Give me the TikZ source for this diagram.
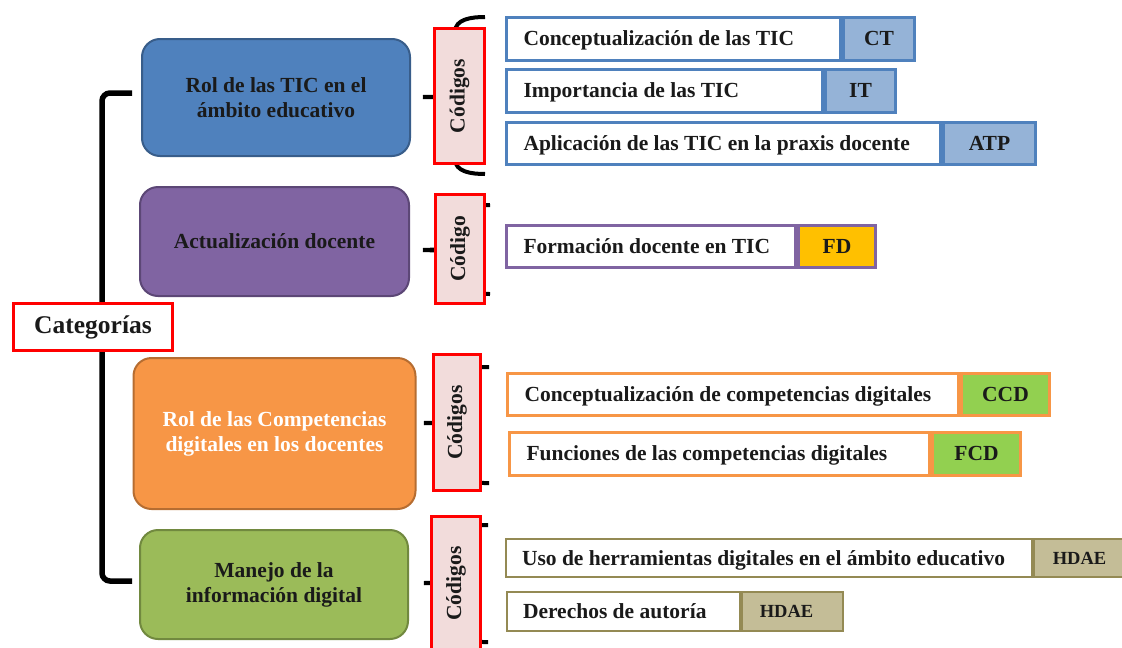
\documentclass[tikz,border=0pt]{standalone}
\usepackage{fontspec}
\setmainfont{Liberation Serif}
\definecolor{txt}{HTML}{1A1A1A}
\definecolor{blueA}{HTML}{4F81BD}
\definecolor{blueB}{HTML}{95B3D7}
\definecolor{blueD}{HTML}{385D8A}
\definecolor{purA}{HTML}{8064A2}
\definecolor{purD}{HTML}{5C4776}
\definecolor{gold}{HTML}{FFC000}
\definecolor{oraA}{HTML}{F79646}
\definecolor{oraD}{HTML}{B66D31}
\definecolor{lgreen}{HTML}{92D050}
\definecolor{grnA}{HTML}{9BBB59}
\definecolor{grnD}{HTML}{71893F}
\definecolor{oliveA}{HTML}{948A54}
\definecolor{oliveB}{HTML}{C4BD97}
\definecolor{pinkfill}{HTML}{F2DCDB}
\begin{document}
\begin{tikzpicture}[x=1pt,y=-1pt,
  base/.style={font=\bfseries\fontsize{21.5}{25}\selectfont, text=txt, inner sep=0pt},
  catbox/.style={base, draw, line width=2pt, rounded corners=18pt, align=center},
  codigo/.style={base, draw=red, fill=pinkfill, line width=3pt},
  itembox/.style={base, draw, line width=3pt, fill=white, anchor=west, inner xsep=17pt, text depth=0pt},
  codebox/.style={base, draw, line width=3pt, anchor=west},
  bracebar/.style={line width=4pt, black},
  mainbar/.style={line width=5.5pt, black, rounded corners=8pt},
  ]
\useasboundingbox (0,0) rectangle (1122,648);

% main bracket
\coordinate (mt) at (132,93);
\coordinate (mb) at (132,581);
\draw[mainbar] (mt) -- (102,93) -- (102,581) -- (mb);

% braces behind Codigos boxes
\coordinate (a1) at (485,17); \coordinate (m1) at (423,97); \coordinate (z1) at (485,174);
\draw[bracebar] (a1) to[out=180,in=90] (455,32) -- (455,86) to[out=-90,in=0] (m1);
\draw[bracebar] (m1) to[out=0,in=90] (455,108) -- (455,159) to[out=-90,in=180] (z1);

\coordinate (a2) at (490,205); \coordinate (m2) at (423,250); \coordinate (z2) at (490,294);
\draw[bracebar] (a2) to[out=180,in=90] (460,218) -- (460,240) to[out=-90,in=0] (m2);
\draw[bracebar] (m2) to[out=0,in=90] (460,260) -- (460,281) to[out=-90,in=180] (z2);

\coordinate (a3) at (489,367); \coordinate (m3) at (424,423); \coordinate (z3) at (489,483);
\draw[bracebar] (a3) to[out=180,in=90] (457,380) -- (457,413) to[out=-90,in=0] (m3);
\draw[bracebar] (m3) to[out=0,in=90] (457,433) -- (457,470) to[out=-90,in=180] (z3);

\coordinate (a4) at (488,525); \coordinate (m4) at (424,583); \coordinate (z4) at (488,642);
\draw[bracebar] (a4) to[out=180,in=90] (456,538) -- (456,573) to[out=-90,in=0] (m4);
\draw[bracebar] (m4) to[out=0,in=90] (456,593) -- (456,629) to[out=-90,in=180] (z4);

% Categorias
\node[base, draw=red, fill=white, line width=3pt, minimum width=159pt, minimum height=47pt,
      font=\bfseries\fontsize{25.5}{28}\selectfont] (cats) at (93,327) {Categorías};

% category boxes
\node[catbox, draw=blueD, fill=blueA, minimum width=268pt, minimum height=117pt] (b1) at (276,97.5)
  {Rol de las TIC en el\\ámbito educativo};
\node[catbox, draw=purD, fill=purA, minimum width=269pt, minimum height=109pt] (b2) at (274.5,241.5)
  {Actualización docente};
\node[catbox, draw=oraD, fill=oraA, text=white, minimum width=282pt, minimum height=151pt] (b3) at (274.5,433.5)
  {Rol de las Competencias\\digitales en los docentes};
\node[catbox, draw=grnD, fill=grnA, minimum width=268pt, minimum height=109pt] (b4) at (274,584.5)
  {Manejo de la\\información digital};

% Codigos boxes
\node[codigo, minimum width=50pt, minimum height=135pt] (c1) at (459.5,96) {\rotatebox{90}{Códigos}};
\node[codigo, minimum width=49pt, minimum height=109pt] (c2) at (460,249) {\rotatebox{90}{Código}};
\node[codigo, minimum width=47pt, minimum height=136pt] (c3) at (457,422.5) {\rotatebox{90}{Códigos}};
\node[codigo, minimum width=49pt, minimum height=134pt] (c4) at (456,583.5) {\rotatebox{90}{Códigos}};

% rows: TIC
\node[itembox, draw=blueA, minimum height=43pt] (t1) at (505,38.5) {\makebox[300pt][l]{Conceptualización de las TIC}};
\node[codebox, draw=blueA, fill=blueB, minimum width=71pt, minimum height=43pt] (k1) at (t1.east) {CT};
\node[itembox, draw=blueA, minimum height=43pt] (t2) at (505,90.5) {\makebox[282pt][l]{Importancia de las TIC}};
\node[codebox, draw=blueA, fill=blueB, minimum width=70pt, minimum height=43pt] (k2) at (t2.east) {IT};
\node[itembox, draw=blueA, minimum height=42pt] (t3) at (505,143) {\makebox[400pt][l]{Aplicación de las TIC en la praxis docente}};
\node[codebox, draw=blueA, fill=blueB, minimum width=92pt, minimum height=42pt] (k3) at (t3.east) {ATP};

% row: FD
\node[itembox, draw=purA, minimum height=42pt] (t4) at (505,246) {\makebox[255pt][l]{Formación docente en TIC}};
\node[codebox, draw=purA, fill=gold, minimum width=77pt, minimum height=42pt] (k4) at (t4.east) {FD};

% rows: competencias
\node[itembox, draw=oraA, minimum height=42pt] (t5) at (506,394) {\makebox[417pt][l]{Conceptualización de competencias digitales}};
\node[codebox, draw=oraA, fill=lgreen, minimum width=88pt, minimum height=42pt] (k5) at (t5.east) {CCD};
\node[itembox, draw=oraA, minimum height=43pt] (t6) at (508,453.5) {\makebox[386pt][l]{Funciones de las competencias digitales}};
\node[codebox, draw=oraA, fill=lgreen, minimum width=88pt, minimum height=43pt] (k6) at (t6.east) {FCD};

% rows: informacion digital
\node[itembox, draw=oliveA, line width=2pt, inner xsep=16pt, minimum height=38pt] (t7) at (505,558)
  {\makebox[494pt][l]{Uso de herramientas digitales en el ámbito educativo}};
\node[codebox, draw=oliveA, fill=oliveB, line width=2pt, minimum width=91pt, minimum height=38pt,
      font=\bfseries\fontsize{18.5}{22}\selectfont] (k7) at (t7.east) {HDAE};
\node[itembox, draw=oliveA, line width=2pt, inner xsep=16pt, minimum height=39pt] (t8) at (506,611.5)
  {\makebox[201pt][l]{Derechos de autoría}};
\node[codebox, draw=oliveA, fill=oliveB, line width=2pt, minimum width=101pt, minimum height=39pt,
      font=\bfseries\fontsize{18.5}{22}\selectfont] (k8) at (t8.east) {\hspace*{-12pt}HDAE};
\end{tikzpicture}
\end{document}
